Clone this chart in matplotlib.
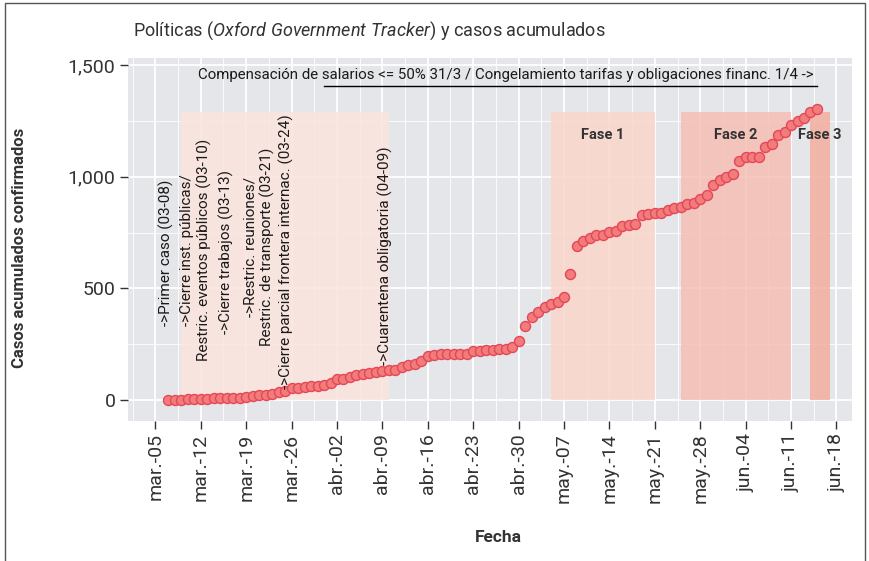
import matplotlib
matplotlib.use('Agg')
import matplotlib.pyplot as plt
import matplotlib.dates as mdates
import matplotlib.patches as mpatches
from matplotlib.ticker import FuncFormatter, FixedLocator
import numpy as np
import pandas as pd

plt.rcParams['font.family'] = ['Roboto', 'DejaVu Sans']
plt.rcParams['mathtext.fontset'] = 'custom'
plt.rcParams['mathtext.rm'] = 'Roboto'
plt.rcParams['mathtext.it'] = 'Roboto:italic'

# ---------------- data ----------------
fecha_inicio = '2020-03-07'
casos = [1, 1, 1, 5, 5, 6, 6, 7, 8, 9, 11, 11, 13, 18, 22, 22, 27, 37, 41, 52, 56, 59, 64, 65, 69,
         77, 92, 96, 104, 113, 115, 119, 124, 129, 133, 134, 147, 159, 161, 174, 199, 202, 206, 206,
         208, 208, 208, 220, 220, 223, 223, 228, 230, 239, 266,
         333, 370, 396, 415, 431, 440, 462, 563, 689, 713, 724, 737, 740, 754, 759, 778, 786, 788,
         829, 833, 838, 838, 851, 862, 865, 877, 884, 900, 917, 964, 986,
         1000, 1013, 1070, 1087, 1090, 1090, 1135, 1145, 1187, 1202, 1230, 1250, 1262, 1289, 1303]

politicas_inicio = '2020-03-09'
politicas_fin = '2020-04-10'
fases = ['Fase 1', 'Fase 2', 'Fase 3']
fases_inicio = ['2020-05-05', '2020-05-25', '2020-06-14']
fases_fin = ['2020-05-21', '2020-06-11', '2020-06-17']
rect_top = 1289

eventos = ['->Primer caso (03-08)',
           '->Cierre inst. públicas/\nRestric. eventos públicos (03-10)',
           '->Cierre trabajos (03-13)',
           '->Restric. reuniones/\nRestric. de transporte (03-21)',
           '->Cierre parcial frontera internac. (03-24)',
           '->Cuarentena obligatoria (04-09)']

compensacion = 'Compensación de salarios <= 50% 31/3 / Congelamiento tarifas y obligaciones financ. 1/4 ->'
compensacion_inicio = '2020-03-31'
compensacion_fin = '2020-06-15'

tick_fechas_inicio = '2020-03-05'
tick_labels = ['mar.-05', 'mar.-12', 'mar.-19', 'mar.-26', 'abr.-02', 'abr.-09', 'abr.-16',
               'abr.-23', 'abr.-30', 'may.-07', 'may.-14', 'may.-21', 'may.-28', 'jun.-04',
               'jun.-11', 'jun.-18']
y_ticks = [0, 500, 1000, 1500]

# ---------------- figure ----------------
W, H = 869, 561
fig = plt.figure(figsize=(W / 100, H / 100), dpi=100)
fig.patch.set_facecolor('white')

L, R, T, B = 128, 852, 58, 421
ax = fig.add_axes([L / W, 1 - B / H, (R - L) / W, (B - T) / H])
ax.set_facecolor('#E5E6E9')
for s in ax.spines.values():
    s.set_visible(False)

fechas = pd.date_range(fecha_inicio, periods=len(casos), freq='D')
x0 = pd.Timestamp(tick_fechas_inicio)

def d(days):
    return mdates.date2num(x0 + pd.Timedelta(days=days))

ax.set_xlim(d(-4.22), d(107.4))
ax.set_ylim(-94, 1532)

# grid
tick_pos = [mdates.date2num(x0 + pd.Timedelta(days=7 * i)) for i in range(len(tick_labels))]
ax.xaxis.set_major_locator(FixedLocator(tick_pos))
ax.xaxis.set_minor_locator(FixedLocator([p + 3.5 for p in tick_pos] + [tick_pos[0] - 3.5]))
ax.set_xticklabels(tick_labels, rotation=90)
ax.yaxis.set_major_locator(FixedLocator(y_ticks))
ax.yaxis.set_minor_locator(FixedLocator([250, 750, 1250]))
ax.yaxis.set_major_formatter(FuncFormatter(lambda v, p: f'{v:,.0f}'))
ax.grid(which='major', color='white', lw=1.3, zorder=0)
ax.grid(which='minor', color='white', lw=0.6, zorder=0)
ax.set_axisbelow(True)
ax.tick_params(axis='both', which='major', length=6, width=1, color='#333333',
               labelsize=14, labelcolor='#333333', pad=3)
ax.tick_params(axis='both', which='minor', length=0)

# rectangles
def rect(a, b, color, alpha):
    xa = mdates.date2num(pd.Timestamp(a))
    xb = mdates.date2num(pd.Timestamp(b))
    ax.add_patch(mpatches.Rectangle((xa, 0), xb - xa, rect_top, facecolor=color,
                                    alpha=alpha, lw=0, zorder=1))

rect(politicas_inicio, politicas_fin, '#FBE4DD', 0.85)
fase_colores = ['#FAD6CB', '#F6BFB3', '#F3AE9F']
for f, a, b, c in zip(fases, fases_inicio, fases_fin, fase_colores):
    rect(a, b, c, 0.85)
    xa = mdates.date2num(pd.Timestamp(a))
    xb = mdates.date2num(pd.Timestamp(b))
    ax.text((xa + xb) / 2, 1187, f, ha='center', va='center', fontsize=10.5,
            fontweight='bold', color='#333333', zorder=4)

# points
ax.scatter(fechas, casos, s=52, facecolor='#F17C79', edgecolor='#E4465A', linewidth=1.0, zorder=3)

# event annotations
ev_x = [1.74, 6.23, 11.0, 16.0, 20.2, 35.4]
ev_y = [660, 672, 665, 687, 663, 645]
for t, xx, yy in zip(eventos, ev_x, ev_y):
    ax.text(d(xx), yy, t, rotation=90, ha='center', va='center', multialignment='center',
            fontsize=11, color='#1a1a1a', linespacing=1.2, zorder=4)

# compensation text and line
ax.text(d(54.1), 1455, compensacion, ha='center', va='center', fontsize=10.8, color='#1a1a1a', zorder=4)
ax.plot([pd.Timestamp(compensacion_inicio), pd.Timestamp(compensacion_fin)], [1406, 1406],
        color='black', lw=1, zorder=4)

# titles
fig.text(133 / W, 1 - 31 / H, r'Políticas ($\mathit{Oxford\ Government\ Tracker}$) y casos acumulados',
         ha='left', va='center', fontsize=13, color='#333333')
fig.text(20 / W, 1 - 248 / H, 'Casos acumulados confirmados', rotation=90, ha='center', va='center',
         fontsize=12, fontweight='bold', color='#333333')
fig.text(498 / W, 1 - 537 / H, 'Fecha', ha='center', va='center', fontsize=12.5,
         fontweight='bold', color='#333333')

# border
fig.add_artist(mpatches.Rectangle((5 / W, -0.05), (865 - 5) / W, 1.05 - 3 / H, transform=fig.transFigure,
                                  fill=False, edgecolor='#555555', lw=1))

fig.savefig('out.png', dpi=100)
